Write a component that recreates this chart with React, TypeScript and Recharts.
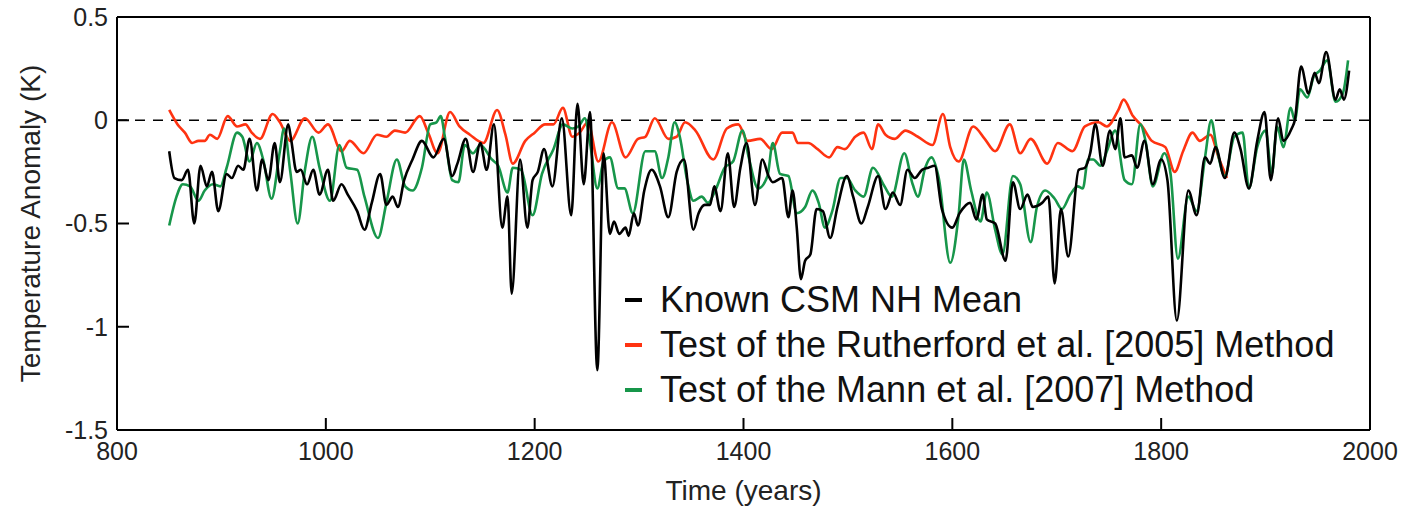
import React from 'react';
import { LineChart, Line, XAxis, YAxis, ReferenceLine, Legend } from 'recharts';

// Pseudo-proxy test: [year, anomaly K]
const KNOWN_CSM: [number, number][] = [
  [850, -0.15], [855, -0.28], [862, -0.29], [868, -0.24], [874, -0.5], [880, -0.22], [886, -0.32], [891, -0.25],
  [897, -0.44], [905, -0.26], [910, -0.28], [916, -0.22], [921, -0.24], [927, -0.09], [934, -0.34], [939, -0.19],
  [945, -0.29], [951, -0.11], [956, -0.3], [964, -0.02], [967, -0.1], [972, -0.25], [976, -0.24], [982, -0.31],
  [988, -0.24], [994, -0.36], [1002, -0.24], [1007, -0.39], [1015, -0.31], [1021, -0.36], [1030, -0.44], [1037, -0.53],
  [1044, -0.4], [1052, -0.26], [1058, -0.41], [1064, -0.37], [1069, -0.42], [1075, -0.29], [1083, -0.19], [1092, -0.1],
  [1103, -0.18], [1113, -0.09], [1121, -0.27], [1126, -0.21], [1134, -0.09], [1141, -0.25], [1148, -0.11], [1154, -0.24],
  [1161, -0.02], [1169, -0.52], [1174, -0.37], [1178, -0.84], [1186, -0.19], [1193, -0.52], [1198, -0.29], [1203, -0.25],
  [1209, -0.14], [1217, -0.32], [1226, 0.01], [1235, -0.46], [1241, 0.08], [1247, -0.31], [1253, 0.04], [1260, -1.21],
  [1266, -0.16], [1272, -0.55], [1276, -0.49], [1281, -0.55], [1287, -0.52], [1290, -0.56], [1295, -0.45], [1299, -0.51],
  [1305, -0.34], [1312, -0.24], [1320, -0.32], [1328, -0.47], [1336, -0.25], [1343, -0.19], [1352, -0.53], [1357, -0.45],
  [1363, -0.41], [1368, -0.41], [1372, -0.32], [1378, -0.44], [1385, -0.16], [1391, -0.42], [1397, -0.23], [1403, -0.11],
  [1411, -0.41], [1418, -0.19], [1424, -0.27], [1428, -0.3], [1437, -0.28], [1443, -0.47], [1447, -0.34], [1451, -0.52],
  [1455, -0.77], [1459, -0.68], [1464, -0.65], [1470, -0.43], [1476, -0.44], [1483, -0.57], [1490, -0.42], [1499, -0.27],
  [1505, -0.37], [1513, -0.5], [1519, -0.42], [1529, -0.27], [1536, -0.43], [1543, -0.35], [1550, -0.41], [1557, -0.24],
  [1564, -0.28], [1571, -0.24], [1577, -0.23], [1583, -0.22], [1590, -0.43], [1600, -0.52], [1607, -0.45], [1617, -0.4],
  [1623, -0.48], [1629, -0.36], [1633, -0.48], [1641, -0.5], [1651, -0.68], [1658, -0.3], [1665, -0.43], [1672, -0.36],
  [1677, -0.42], [1686, -0.4], [1692, -0.37], [1698, -0.79], [1704, -0.43], [1711, -0.66], [1721, -0.24], [1727, -0.23],
  [1732, -0.16], [1737, -0.02], [1744, -0.22], [1751, -0.05], [1756, -0.14], [1761, 0.01], [1765, -0.18], [1772, -0.17],
  [1777, -0.23], [1784, -0.1], [1792, -0.31], [1800, -0.19], [1806, -0.29], [1815, -0.97], [1826, -0.34], [1834, -0.46],
  [1842, -0.18], [1847, -0.21], [1852, -0.13], [1861, -0.28], [1870, -0.06], [1876, -0.14], [1884, -0.33], [1892, -0.1],
  [1899, 0.04], [1905, -0.29], [1912, 0.01], [1917, -0.1], [1925, -0.04], [1928, 0], [1934, 0.26], [1941, 0.13],
  [1947, 0.23], [1951, 0.18], [1958, 0.33], [1967, 0.1], [1971, 0.15], [1975, 0.1], [1980, 0.24],
];

const RUTHERFORD: [number, number][] = [
  [850, 0.05], [858, -0.02], [865, -0.06], [872, -0.11], [878, -0.1], [884, -0.1], [889, -0.07], [896, -0.09],
  [906, 0.02], [915, -0.03], [923, -0.02], [929, -0.06], [937, -0.09], [949, 0.03], [956, -0.01], [966, -0.1],
  [980, 0.01], [993, -0.06], [1002, -0.02], [1015, -0.15], [1023, -0.1], [1036, -0.16], [1049, -0.07], [1058, -0.08],
  [1066, -0.05], [1076, -0.06], [1090, 0.02], [1098, -0.06], [1107, -0.16], [1119, 0.04], [1128, -0.03], [1138, -0.07],
  [1151, -0.11], [1164, 0.05], [1172, -0.07], [1179, -0.21], [1191, -0.1], [1200, -0.06], [1210, -0.02], [1218, -0.02],
  [1227, 0.06], [1236, -0.08], [1243, -0.06], [1251, -0.01], [1261, -0.2], [1274, -0.01], [1287, -0.18], [1299, -0.09],
  [1306, -0.08], [1315, 0.01], [1328, -0.09], [1336, -0.08], [1344, -0.01], [1354, -0.05], [1371, -0.19], [1384, -0.04],
  [1395, -0.02], [1404, -0.1], [1416, -0.09], [1427, -0.14], [1437, -0.06], [1447, -0.06], [1452, -0.11], [1462, -0.11],
  [1471, -0.14], [1482, -0.18], [1490, -0.13], [1497, -0.14], [1507, -0.08], [1515, -0.06], [1523, -0.14], [1529, -0.02],
  [1536, -0.07], [1545, -0.09], [1555, -0.05], [1567, -0.08], [1581, -0.12], [1591, 0.03], [1598, -0.13], [1606, -0.2],
  [1620, -0.03], [1631, -0.09], [1641, -0.15], [1655, -0.02], [1665, -0.16], [1675, -0.09], [1691, -0.21], [1701, -0.11],
  [1715, -0.15], [1727, -0.03], [1740, -0.01], [1748, -0.03], [1759, 0.05], [1764, 0.1], [1773, 0.02], [1782, -0.03],
  [1791, -0.1], [1804, -0.13], [1813, -0.25], [1821, -0.15], [1830, -0.06], [1837, -0.1], [1847, -0.07], [1855, -0.18],
  [1863, -0.28],
];

const MANN: [number, number][] = [
  [850, -0.51], [857, -0.37], [863, -0.31], [870, -0.32], [878, -0.39], [884, -0.34], [892, -0.31], [899, -0.32],
  [905, -0.23], [915, -0.06], [920, -0.08], [927, -0.2], [934, -0.11], [940, -0.19], [948, -0.38], [956, -0.15],
  [960, -0.04], [966, -0.25], [973, -0.5], [980, -0.24], [987, -0.08], [994, -0.23], [1004, -0.39], [1013, -0.12],
  [1020, -0.23], [1030, -0.24], [1037, -0.37], [1050, -0.57], [1058, -0.4], [1068, -0.19], [1076, -0.32], [1083, -0.34],
  [1092, -0.23], [1100, -0.02], [1106, -0.01], [1110, 0.02], [1114, -0.08], [1121, -0.29], [1127, -0.3], [1133, -0.12],
  [1141, -0.16], [1148, -0.12], [1159, -0.19], [1165, -0.22], [1174, -0.35], [1179, -0.23], [1187, -0.24], [1198, -0.46],
  [1207, -0.26], [1218, -0.14], [1227, -0.02], [1236, -0.04], [1242, -0.03], [1248, 0.01], [1253, -0.11], [1260, -0.33],
  [1266, -0.2], [1272, -0.18], [1280, -0.33], [1286, -0.33], [1294, -0.45], [1306, -0.15], [1315, -0.15], [1322, -0.28],
  [1328, -0.18], [1334, -0.01], [1339, -0.08], [1346, -0.29], [1352, -0.39], [1360, -0.37], [1366, -0.4], [1373, -0.34],
  [1382, -0.23], [1390, -0.2], [1399, -0.05], [1405, -0.18], [1414, -0.33], [1423, -0.27], [1428, -0.11], [1435, -0.26],
  [1443, -0.27], [1451, -0.45], [1459, -0.42], [1466, -0.34], [1472, -0.4], [1478, -0.52], [1485, -0.44], [1493, -0.28],
  [1499, -0.28], [1507, -0.34], [1515, -0.37], [1524, -0.23], [1535, -0.32], [1542, -0.37], [1554, -0.16], [1562, -0.31],
  [1567, -0.37], [1574, -0.23], [1580, -0.18], [1587, -0.28], [1598, -0.69], [1606, -0.46], [1611, -0.19], [1618, -0.34],
  [1627, -0.49], [1633, -0.35], [1641, -0.53], [1648, -0.65], [1658, -0.27], [1665, -0.31], [1675, -0.59], [1681, -0.42],
  [1689, -0.34], [1698, -0.38], [1705, -0.43], [1713, -0.36], [1720, -0.32], [1725, -0.33], [1730, -0.19], [1735, -0.19],
  [1742, -0.22], [1748, -0.15], [1756, -0.05], [1765, -0.29], [1772, -0.31], [1780, -0.02], [1785, -0.1], [1792, -0.32],
  [1803, -0.16], [1809, -0.26], [1816, -0.67], [1826, -0.37], [1834, -0.44], [1842, -0.18], [1848, 0], [1853, -0.13],
  [1861, -0.27], [1870, -0.08], [1878, -0.06], [1884, -0.33], [1892, -0.13], [1900, -0.05], [1906, -0.26], [1911, -0.03],
  [1917, -0.13], [1924, 0.06], [1928, 0], [1933, 0.15], [1940, 0.11], [1946, 0.21], [1952, 0.24], [1959, 0.29],
  [1967, 0.09], [1974, 0.13], [1979, 0.29],
];

const X_TICKS = [800, 1000, 1200, 1400, 1600, 1800, 2000];
const Y_TICKS = [-1.5, -1, -0.5, 0, 0.5];

const NAME_CSM = 'Known CSM NH Mean';
const NAME_RUTH = 'Test of the Rutherford et al. [2005] Method';
const NAME_MANN = 'Test of the Mann et al. [2007] Method';
const LEGEND_ORDER = [NAME_CSM, NAME_RUTH, NAME_MANN];

const FONT = '"Liberation Sans", Arial, Helvetica, sans-serif';
const toRows = (pts: [number, number][]) => pts.map(([year, value]) => ({ year, value }));

// legend: short thick dash + label
const LegendBox = (props: any) => {
  const items = [...(props.payload || [])].sort(
    (a: any, b: any) => LEGEND_ORDER.indexOf(a.value) - LEGEND_ORDER.indexOf(b.value)
  );
  return (
    <div style={{ fontFamily: FONT, fontSize: 36, color: '#111' }}>
      {items.map((it: any) => (
        <div key={it.value} style={{ display: 'flex', alignItems: 'center', height: 45 }}>
          <span style={{ display: 'inline-block', width: 17, height: 4, background: it.color, marginRight: 18 }} />
          <span style={{ whiteSpace: 'nowrap' }}>{it.value}</span>
        </div>
      ))}
    </div>
  );
};

export default function App() {
  const axisTick = { fontSize: 25, fill: '#222', fontFamily: FONT };
  return (
    <div style={{ position: 'absolute', left: 0, top: 0, background: '#fff' }}>
      <LineChart width={1406} height={510} margin={{ top: 16, right: 0, left: 0, bottom: 0 }}>
        <XAxis xAxisId="top" orientation="top" type="number" dataKey="year" domain={[800, 2000]} ticks={X_TICKS}
          height={1} tick={false} tickSize={-12} stroke="#000" strokeWidth={2} />
        <YAxis yAxisId="right" orientation="right" type="number" domain={[-1.5, 0.5]} ticks={Y_TICKS}
          width={36} tick={false} tickSize={-12} stroke="#000" strokeWidth={2} />
        <XAxis type="number" dataKey="year" domain={[800, 2000]} ticks={X_TICKS} height={80}
          tickSize={-12} tickMargin={24} tick={axisTick} stroke="#000" strokeWidth={2}
          label={{ value: 'Time (years)', position: 'insideBottom', offset: 10, style: { fontSize: 28, fill: '#222', fontFamily: FONT } }} />
        <YAxis type="number" domain={[-1.5, 0.5]} ticks={Y_TICKS} width={117}
          tickSize={-12} tickMargin={21} tick={axisTick} stroke="#000" strokeWidth={2}
          label={{ value: 'Temperature Anomaly (K)', angle: -90, position: 'insideLeft', offset: 30,
            style: { fontSize: 28, fill: '#222', fontFamily: FONT, textAnchor: 'middle' } }} />
        <ReferenceLine y={0} stroke="#000" strokeWidth={1.5} strokeDasharray="10 8" />
        <Line data={toRows(RUTHERFORD)} dataKey="value" name={NAME_RUTH}
          type="monotone" stroke="#ff3311" strokeWidth={2.6} dot={false} isAnimationActive={false} />
        <Line data={toRows(MANN)} dataKey="value" name={NAME_MANN}
          type="monotone" stroke="#17964a" strokeWidth={2.6} dot={false} isAnimationActive={false} />
        <Line data={toRows(KNOWN_CSM)} dataKey="value" name={NAME_CSM}
          type="monotone" stroke="#000" strokeWidth={2.6} dot={false} isAnimationActive={false} />
        <Legend layout="vertical" align="center" verticalAlign="middle" content={<LegendBox />}
          wrapperStyle={{ left: 625, top: 277, width: 760 }} />
      </LineChart>
    </div>
  );
}
